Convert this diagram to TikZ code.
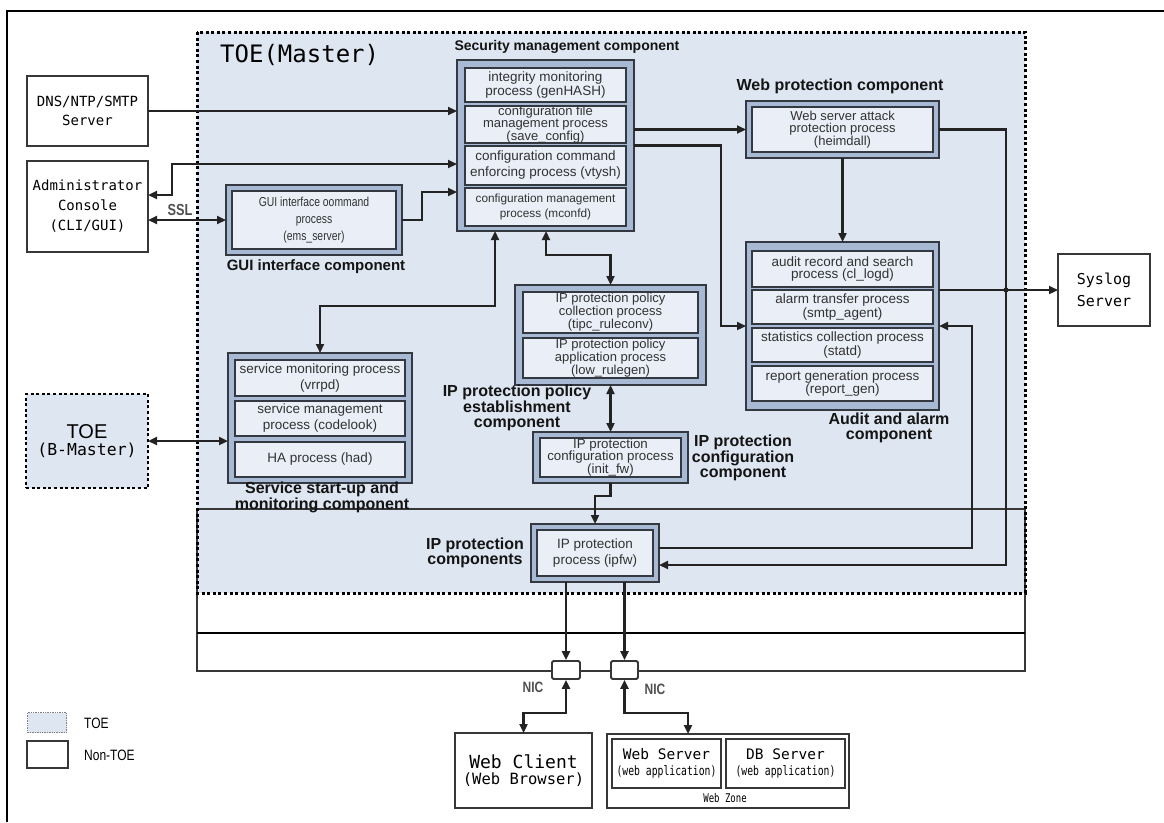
\documentclass[tikz,border=0pt]{standalone}
\usepackage{fontspec}
\setmainfont{Liberation Sans}
\newfontfamily\monofam{DejaVu Sans Mono}
\newfontfamily\monocond[FakeStretch=0.75]{DejaVu Sans Mono}
\newfontfamily\narrowfam[FakeStretch=0.8]{Liberation Sans}
\usetikzlibrary{arrows.meta}

\definecolor{toefill}{RGB}{222,230,241}
\definecolor{bandc}{RGB}{168,186,211}
\definecolor{procc}{RGB}{234,239,247}
\definecolor{edgec}{RGB}{52,56,64}
\definecolor{linec}{RGB}{35,35,35}
\definecolor{proctext}{RGB}{50,50,50}
\definecolor{labc}{RGB}{20,20,20}
\definecolor{plainc}{RGB}{55,55,55}
\definecolor{tagc}{RGB}{80,80,80}

\tikzset{
  comp/.style={draw=edgec, line width=2.2pt, fill=bandc, inner sep=0pt, outer sep=0pt},
  proc/.style={draw=edgec, line width=2.4pt, fill=procc, inner sep=0pt, outer sep=0pt,
    align=center, text=proctext, font=\fontsize{13.5}{12.5}\selectfont},
  plainbox/.style={draw=plainc, line width=2.2pt, fill=white, inner sep=0pt, outer sep=0pt,
    align=center, text=black},
  lab/.style={inner sep=0pt, align=center, text=labc,
    font=\bfseries\fontsize{16}{14.5}\selectfont},
  tag/.style={inner sep=0pt, text=tagc, font=\narrowfam\bfseries\fontsize{15}{15}\selectfont},
  arr/.style={draw=linec, line width=2.2pt, -{Triangle[length=9pt,width=8pt]}},
  dbl/.style={draw=linec, line width=2.2pt,
    {Triangle[length=9pt,width=8pt]}-{Triangle[length=9pt,width=8pt]}},
  toeedge/.style={draw=black, line width=3pt, dash pattern=on 3pt off 2.6pt},
}

\begin{document}
\begin{tikzpicture}[x=1pt,y=-1pt]
\useasboundingbox (0,0) rectangle (1164,822);
\fill[white] (0,0) rectangle (1164,822);

% outer frame
\draw[black, line width=2.6pt] (7,822) -- (7,11) -- (1164,11);

% TOE (Master) region and the IP protection / network band below it
\fill[toefill] (197,32) rectangle (1025,593);
\draw[plainc, line width=1.8pt] (197,509) rectangle (1025,671);
\draw[black, line width=2.8pt] (197,633) -- (1025,633);
\draw[toeedge] (197,32) rectangle (1025,593);

\node[anchor=west, inner sep=0pt, font=\monofam\fontsize{24}{24}\selectfont] (toetitle) at (220,55) {TOE(Master)};

% external servers and consoles
\node[plainbox, minimum width=121pt, minimum height=70pt,
  font=\monofam\fontsize{14}{19}\selectfont] (dns) at (87.5,111) {DNS/NTP/SMTP\\Server};
\node[plainbox, minimum width=121pt, minimum height=91pt,
  font=\monofam\fontsize{14}{20}\selectfont] (admin) at (87.5,206.5) {Administrator\\Console\\(CLI/GUI)};
\node[plainbox, minimum width=92pt, minimum height=72pt,
  font=\monofam\fontsize{15}{22}\selectfont] (syslog) at (1104,290) {Syslog\\Server};
\node[plainbox, fill=toefill, draw=black, line width=2.8pt, dash pattern=on 3pt off 2.6pt,
  minimum width=122pt, minimum height=94pt] (bmaster) at (87,441)
  {{\fontsize{20}{20}\selectfont TOE}\\[4pt]{\monofam\fontsize{16.5}{16.5}\selectfont (B-Master)}};

% GUI interface component
\node[comp, minimum width=176pt, minimum height=70pt] (gui) at (314,220) {};
\node[proc, minimum width=164pt, minimum height=58pt,
  font=\narrowfam\fontsize{13}{17}\selectfont] (guip) at (314,220) {GUI interface oommand\\process\\(ems\_server)};
\node[lab, font=\bfseries\fontsize{15}{15}\selectfont] (guilab) at (316,267) {GUI interface component};

% Security management component
\node[comp, minimum width=177pt, minimum height=171pt] (sec) at (545.5,145.5) {};
\node[proc, minimum width=161pt, minimum height=34pt] (sec1) at (545.5,85) {integrity monitoring\\process (genHASH)};
\node[proc, minimum width=161pt, minimum height=37pt, font=\fontsize{13}{12}\selectfont] (sec2) at (545.5,124.5) {configuration file\\management process\\(save\_config)};
\node[proc, minimum width=161pt, minimum height=39pt, font=\fontsize{13.5}{16}\selectfont] (sec3) at (545.5,165.5) {configuration command\\enforcing process (vtysh)};
\node[proc, minimum width=161pt, minimum height=38pt, font=\fontsize{11.8}{15}\selectfont] (sec4) at (545.5,207) {configuration management\\process (mconfd)};
\node[lab, font=\bfseries\fontsize{14}{14}\selectfont] (seclab) at (567,47) {Security management component};

% Web protection component
\node[comp, minimum width=193pt, minimum height=57pt] (web) at (842.5,129.5) {};
\node[proc, minimum width=181pt, minimum height=45pt, font=\fontsize{13}{12.3}\selectfont] (webp) at (842.5,129.5) {Web server attack\\protection process\\(heimdall)};
\node[lab] (weblab) at (840,86) {Web protection component};

% Audit and alarm component
\node[comp, minimum width=193pt, minimum height=168pt] (audit) at (842.5,326) {};
\node[proc, minimum width=181pt, minimum height=36pt] (aud1) at (842.5,269) {audit record and search\\process (cl\_logd)};
\node[proc, minimum width=181pt, minimum height=34pt] (aud2) at (842.5,307) {alarm transfer process\\(smtp\_agent)};
\node[proc, minimum width=181pt, minimum height=34pt] (aud3) at (842.5,345) {statistics collection process\\(statd)};
\node[proc, minimum width=181pt, minimum height=35pt] (aud4) at (842.5,383.5) {report generation process\\(report\_gen)};
\node[lab, font=\bfseries\fontsize{16}{15}\selectfont] (audlab) at (889,428) {Audit and alarm\\component};

% Service start-up and monitoring component
\node[comp, minimum width=184pt, minimum height=130pt] (svc) at (320,418) {};
\node[proc, minimum width=170pt, minimum height=36pt, font=\fontsize{13.5}{16}\selectfont] (svc1) at (320,378) {service monitoring process\\(vrrpd)};
\node[proc, minimum width=170pt, minimum height=35pt, font=\fontsize{13.5}{16}\selectfont] (svc2) at (320,418.5) {service management\\process (codelook)};
\node[proc, minimum width=170pt, minimum height=35pt] (svc3) at (320,459.5) {HA process (had)};
\node[lab, font=\bfseries\fontsize{16}{12.3}\selectfont] (svclab) at (322,497) {Service start-up and\\monitoring component};

% IP protection policy establishment component
\node[comp, minimum width=191pt, minimum height=100pt] (pol) at (610.5,335) {};
\node[proc, minimum width=175pt, minimum height=41pt, font=\fontsize{13}{10.8}\selectfont] (pol1) at (610.5,312.5) {IP protection policy\\collection process\\(tipc\_ruleconv)};
\node[proc, minimum width=175pt, minimum height=40pt, font=\fontsize{13}{10.8}\selectfont] (pol2) at (610.5,358) {IP protection policy\\application process\\(low\_rulegen)};
\node[lab] (pollab) at (517,408) {IP protection policy\\establishment\\component};

% IP protection configuration component
\node[comp, minimum width=155pt, minimum height=51pt] (cfg) at (610.5,457.5) {};
\node[proc, minimum width=141pt, minimum height=39pt, font=\fontsize{13.3}{12.5}\selectfont] (cfgp) at (610.5,457.5) {IP protection\\configuration process\\(init\_fw)};
\node[lab] (cfglab) at (743,458) {IP protection\\configuration\\component};

% IP protection components
\node[comp, minimum width=128pt, minimum height=58pt] (ipfw) at (595,553) {};
\node[proc, minimum width=116pt, minimum height=46pt, font=\fontsize{13.5}{16.5}\selectfont] (ipfwp) at (595,553) {IP protection\\process (ipfw)};
\node[lab] (ipfwlab) at (475,553) {IP protection\\components};

% network interfaces
\node[draw=plainc, line width=1.8pt, fill=white, rounded corners=1.5pt, inner sep=0pt,
  minimum width=28pt, minimum height=18pt] (nic1) at (566,670) {};
\node[draw=plainc, line width=1.8pt, fill=white, rounded corners=1.5pt, inner sep=0pt,
  minimum width=27pt, minimum height=18pt] (nic2) at (624.5,670) {};
\node[tag] (nic1lab) at (533,687) {NIC};
\node[tag] (nic2lab) at (655,689) {NIC};

% client side and web zone
\node[plainbox, minimum width=137pt, minimum height=75pt] (client) at (523.5,770.5)
  {{\monofam\fontsize{18}{18}\selectfont Web Client}\\[3pt]{\monofam\fontsize{15.5}{15.5}\selectfont (Web Browser)}};
\node[plainbox, minimum width=242pt, minimum height=74pt] (zone) at (728,771) {};
\node[plainbox, line width=2pt, minimum width=109pt, minimum height=49pt] (zweb) at (666.5,763.5)
  {{\monofam\fontsize{14.5}{14.5}\selectfont Web Server}\\[4pt]{\monocond\fontsize{13}{13}\selectfont (web application)}};
\node[plainbox, line width=2pt, minimum width=119pt, minimum height=49pt] (zdb) at (785.5,763.5)
  {{\monofam\fontsize{14.5}{14.5}\selectfont DB Server}\\[4pt]{\monocond\fontsize{13}{13}\selectfont (web application)}};
\node[inner sep=0pt, font=\monocond\fontsize{12}{12}\selectfont] (zonelab) at (725,798) {Web Zone};

% legend
\node[draw=gray, line width=1.4pt, densely dotted, fill=toefill, inner sep=0pt,
  minimum width=39pt, minimum height=20pt] (legtoe) at (47,722.5) {};
\node[anchor=west, inner sep=0pt, font=\narrowfam\fontsize{15}{15}\selectfont] (legtoelab) at (84,723) {TOE};
\node[draw=plainc, line width=2pt, inner sep=0pt,
  minimum width=41pt, minimum height=27pt] (legnon) at (47.5,754) {};
\node[anchor=west, inner sep=0pt, font=\narrowfam\fontsize{15}{15}\selectfont] (legnonlab) at (84,755) {Non-TOE};

% bend points
\coordinate (hbend) at ([xshift=67pt]web.east);
\coordinate (abend) at ([xshift=313pt,yshift=5pt]ipfw.east);

% connectors
\draw[arr] (dns.east) -- (dns.east -| sec.west);
\draw[dbl] ([yshift=11.5pt]admin.east) -- ++(24,0) |- ([yshift=-18.5pt]sec.west);
\draw[dbl] (gui.west -| admin.east) -- (gui.west);
\node[tag, font=\narrowfam\bfseries\fontsize{16}{16}\selectfont] (ssl) at (180,210) {SSL};
\draw[arr] (gui.east) -- ++(20,0) |- ([yshift=-46.5pt]sec.west);
\draw[arr] (web.west -| sec.east) -- (web.west);
\draw[arr] (sec.east) -- ++(87,0) |- (audit.west);
\draw[arr] (web.south) -- (audit.north);
\draw[arr] (syslog.west -| audit.east) -- (syslog.west);
\draw[arr] (web.east) -- (hbend) |- ([yshift=-12pt]ipfw.east);
\fill[linec] (hbend |- syslog.west) circle (2.6pt);
\draw[arr] ([yshift=5pt]ipfw.east) -- (abend) |- (audit.east);
\draw[dbl] ([xshift=-50.5pt]sec.south) -- ++(0,75) -| (svc.north);
\draw[dbl] ([xshift=0.5pt]sec.south) -- ++(0,24) -| (pol.north);
\draw[dbl] (pol.south) -- (cfg.north);
\draw[arr] (cfg.south) -- ++(0,13) -| (ipfw.north);
\draw[dbl] (bmaster.east) -- (bmaster.east -| svc.west);
\draw[arr] (ipfw.south -| nic1.north) -- (nic1.north);
\draw[arr] (ipfw.south -| nic2.north) -- (nic2.north);
\draw[dbl] (nic1.south) -- ++(0,33) -| (client.north);
\draw[dbl] (nic2.south) -- ++(0,33) -| ([xshift=-40pt]zone.north);
\end{tikzpicture}
\end{document}
